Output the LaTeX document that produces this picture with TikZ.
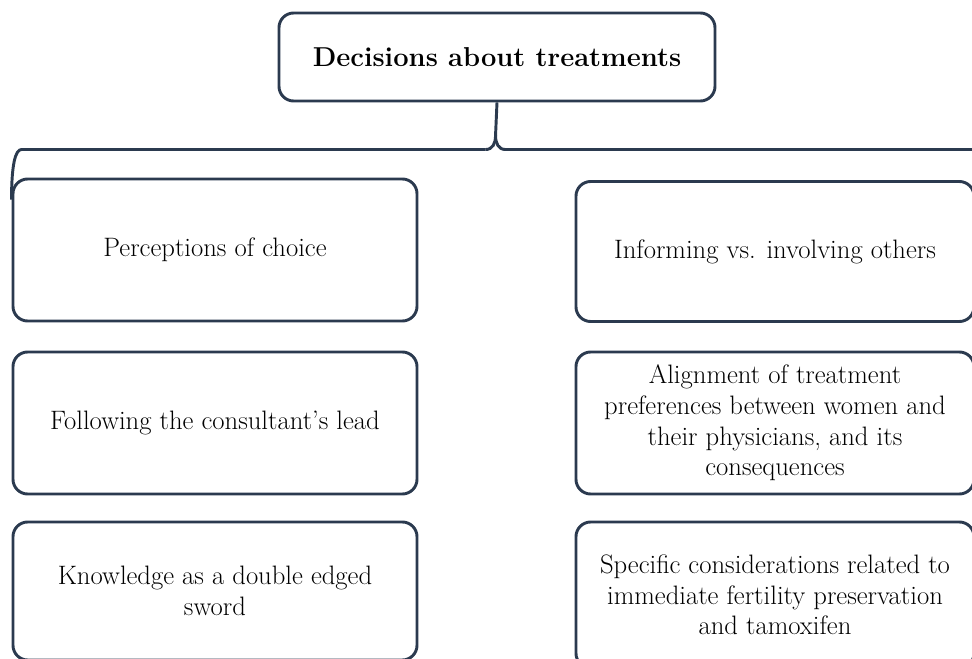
\documentclass[tikz,border=0pt]{standalone}
\usepackage{tikz}
\definecolor{framecol}{HTML}{2B3A4F}

\begin{document}
\begin{tikzpicture}[x=0.75pt, y=-0.75pt,
	theme/.style={draw=framecol, line width=2.2pt, rounded corners=11pt, align=center, font=\fontsize{20}{23}\selectfont},
	topic/.style={theme, font=\fontsize{20.5}{24}\selectfont\bfseries}]
			\useasboundingbox (0,0) rectangle (972,659);
			\clip (0,0) rectangle (972,659);
			\node[topic, minimum width=327pt, minimum height=66pt] (top) at (497,57) {Decisions about treatments};
			\node[theme, minimum width=303pt, minimum height=106.5pt] (perc) at (215,250) {Perceptions of choice};
			\node[theme, minimum width=303pt, minimum height=106.5pt] (lead) at (215,423) {Following the consultant’s lead};
			\node[theme, minimum width=303pt, minimum height=103.5pt] (sword) at (215,591) {Knowledge as a double edged\\sword};
			\node[theme, minimum width=298.5pt, minimum height=105pt] (inform) at (775,251.5) {Informing vs. involving others};
			\node[theme, minimum width=298.5pt, minimum height=106.5pt] (align) at (775,423) {Alignment of treatment\\preferences between women and\\their physicians, and its\\consequences};
			\node[theme, minimum width=298.5pt, minimum height=109.5pt] (fert) at (775,595) {Specific considerations related to\\immediate fertility preservation\\and tamoxifen};
			\draw[framecol, line width=2.2pt] (perc.north west) ++(0,22) .. controls +(0,-36) and +(-6,0) .. ++(10,-50) -- ++(464,0) coordinate (tipl);
			\draw[framecol, line width=2.2pt] (tipl) .. controls +(7,0) and +(0,8) .. ++(10,-14) -- (top.south);
			\draw[framecol, line width=2.2pt] (tipl) ++(10,-14) .. controls +(0,8) and +(-7,0) .. ++(10,14) -- ++(500,0);
	\end{tikzpicture}
\end{document}
